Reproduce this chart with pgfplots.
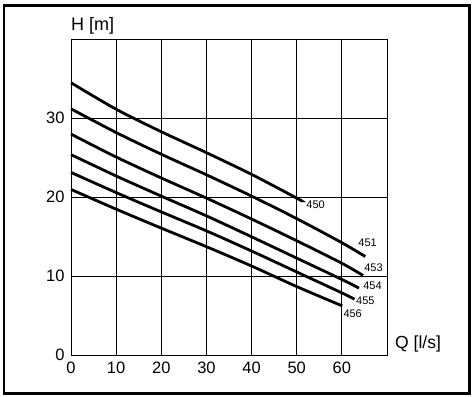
\documentclass[border=0pt]{standalone}
\usepackage{pgfplots}
\pgfplotsset{compat=1.18}
\usepackage{fontspec}
\setmainfont{Liberation Sans}
\begin{document}
\begin{tikzpicture}
\begin{axis}[
  name=ax,
  scale only axis,
  width=316bp, height=316bp,
  xmin=0, xmax=70, ymin=0, ymax=40,
  xtick={0,10,20,30,40,50,60,70},
  xticklabels={0,10,20,30,40,50,60,},
  ytick={0,10,20,30,40},
  yticklabels={0,10,20,30,},
  grid=major,
  major grid style={black, line width=1bp},
  axis line style={black, line width=1bp},
  major tick length=0pt,
  tick style={draw=none},
  /pgf/number format/assume math mode=true,
  ticklabel style={font=\fontsize{16.5bp}{19bp}\selectfont},
  xticklabel style={yshift=-3bp},
  yticklabel style={xshift=-3bp},
  clip=false,
]
\addplot[black, line width=2.8bp, smooth] coordinates {(0,34.5)(10,31.15)(20,28.3)(30,25.65)(40,22.9)(50,19.9)(51,19.55)};
\addplot[black, line width=2.8bp, smooth] coordinates {(0,31.2)(10,28.2)(20,25.45)(30,22.85)(40,20.15)(50,17.3)(60,14.25)(65.2,12.5)};
\addplot[black, line width=2.8bp, smooth] coordinates {(0,28.0)(10,25.1)(20,22.45)(30,19.9)(40,17.25)(50,14.5)(60,11.65)(64.7,10.1)};
\addplot[black, line width=2.8bp, smooth] coordinates {(0,25.4)(10,22.7)(20,20.15)(30,17.65)(40,15.0)(50,12.3)(60,9.6)(63.8,8.5)};
\addplot[black, line width=2.8bp, smooth] coordinates {(0,23.15)(10,20.6)(20,18.15)(30,15.75)(40,13.2)(50,10.55)(60,7.9)(62.8,7.1)};
\addplot[black, line width=2.8bp, smooth] coordinates {(0,21.0)(10,18.5)(20,16.1)(30,13.75)(40,11.3)(50,8.7)(60.1,6.25)};
\begin{scope}[every node/.style={font=\fontsize{11bp}{12bp}\selectfont, inner sep=0pt}]
\node at (axis cs:54.2,19.0) {450};
\node at (axis cs:65.7,14.2) {451};
\node at (axis cs:67.0,11.1) {453};
\node at (axis cs:66.8,8.8) {454};
\node at (axis cs:65.2,6.85) {455};
\node at (axis cs:62.4,5.3) {456};
\end{scope}
\end{axis}
\node[font=\fontsize{18bp}{20bp}\selectfont, anchor=south west, inner sep=0pt] at ([yshift=5bp]ax.north west) {H [m]};
\node[font=\fontsize{17.5bp}{20bp}\selectfont, anchor=west, inner sep=0pt] at ([xshift=8bp, yshift=11bp]ax.south east) {Q [l/s]};
\draw[line width=2.5bp] ([xshift=-67bp, yshift=-38bp]ax.south west) rectangle ([xshift=82.5bp, yshift=34bp]ax.north east);
\useasboundingbox ([xshift=-71bp, yshift=-41.3bp]ax.south west) rectangle ([xshift=86bp, yshift=39.3bp]ax.north east);
\end{tikzpicture}
\end{document}
